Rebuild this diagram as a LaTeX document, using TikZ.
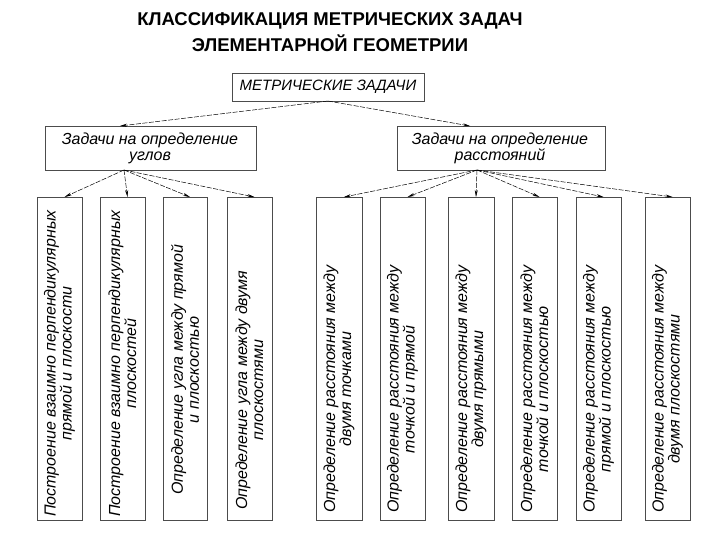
\documentclass[tikz,border=0pt]{standalone}
\usepackage{fontspec}
\setmainfont{Liberation Sans}
\usetikzlibrary{arrows.meta}
\begin{document}
\begin{tikzpicture}[x=1pt,y=-1pt,
  box/.style={draw=black!70,line width=0.6pt},
  lbl/.style={font=\itshape\fontsize{16}{16}\selectfont,align=center,inner sep=0pt},
  vl/.style={lbl,rotate=90,anchor=west},
  arr/.style={-{Stealth[length=7pt,width=3pt]},line width=0.5pt,dashed,dash pattern=on 5pt off 1.5pt}]
\useasboundingbox (0,0) rectangle (720,540);
\node[font=\bfseries\fontsize{18.5}{26}\selectfont,align=center] (title) at (330,32) {КЛАССИФИКАЦИЯ МЕТРИЧЕСКИХ ЗАДАЧ\\ЭЛЕМЕНТАРНОЙ ГЕОМЕТРИИ};
\draw[box] (232,73) rectangle (424,101);
\node[lbl,font=\itshape\fontsize{15}{16}\selectfont] (top) at (328,87) {МЕТРИЧЕСКИЕ ЗАДАЧИ};
\coordinate (tb) at (328,101);
\draw[box] (45,126) rectangle (256,170);
\node[lbl] (ml) at (150,148) {Задачи на определение\\углов};
\coordinate (mlt) at (120,126);
\draw[box] (397,126) rectangle (605,170);
\node[lbl] (mr) at (500,148) {Задачи на определение\\расстояний};
\draw[arr] (tb) -- (mlt);
\draw[arr] (tb) -- (470,126);
\foreach \i/\a/\b/\t/\s in {
 1/37/82/{Построение взаимно перпендикулярных\\прямой и плоскости}/517,
 2/100/145/{Построение взаимно перпендикулярных\\плоскостей}/517,
 3/163/207/{Определение угла между прямой\\и плоскостью}/495,
 4/227/272/{Определение угла между двумя\\плоскостями}/510,
 5/316/362/{Определение расстояния между\\двумя точками}/513,
 6/380/425/{Определение расстояния между\\точкой и прямой}/513,
 7/448/494/{Определение расстояния между\\двумя прямыми}/513,
 8/512/557/{Определение расстояния между\\точкой и плоскостью}/513,
 9/576/621/{Определение расстояния между\\прямой и плоскостью}/513,
 10/645/690/{Определение расстояния между\\двумя плоскостями}/513}{
  \draw[box] (\a,197) rectangle (\b,520);
  \node[vl] (b\i) at ({(\a+\b)/2},\s) {\t};
  \coordinate (bt\i) at ({(\a+\b)/2+5},197);
}
\coordinate (sl) at (124,170); \coordinate (sr) at (477,170);
\foreach \i in {1,2,3,4} \draw[arr] (sl) -- (bt\i);
\foreach \i in {5,6,7,8,9,10} \draw[arr] (sr) -- (bt\i);
\end{tikzpicture}
\end{document}
